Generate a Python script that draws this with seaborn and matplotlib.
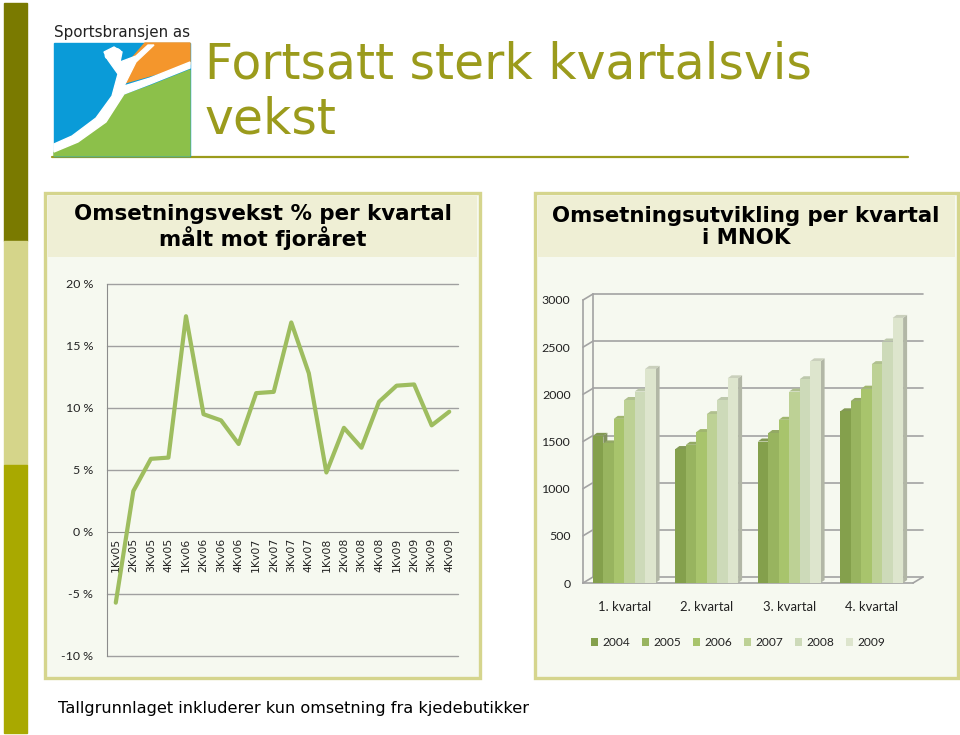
import matplotlib
matplotlib.use("Agg")
import matplotlib.pyplot as plt
from matplotlib.patches import Rectangle, Polygon, Ellipse
from matplotlib.transforms import Affine2D
import seaborn as sns
import pandas as pd
import numpy as np

# ---------------- data ----------------
quarters = ["1Kv05", "2Kv05", "3Kv05", "4Kv05", "1Kv06", "2Kv06", "3Kv06", "4Kv06",
            "1Kv07", "2Kv07", "3Kv07", "4Kv07", "1Kv08", "2Kv08", "3Kv08", "4Kv08",
            "1Kv09", "2Kv09", "3Kv09", "4Kv09"]
growth = [-5.7, 3.3, 5.9, 6.0, 17.4, 9.5, 9.0, 7.1,
          11.2, 11.3, 16.9, 12.8, 4.8, 8.4, 6.8, 10.5,
          11.8, 11.9, 8.6, 9.7]
growth_ticks = [-10, -5, 0, 5, 10, 15, 20]

kvartaler = ["1. kvartal", "2. kvartal", "3. kvartal", "4. kvartal"]
years = ["2004", "2005", "2006", "2007", "2008", "2009"]
sales_2004 = [1560, 1420, 1500, 1820]
sales_2005 = [1480, 1465, 1590, 1930]
sales_2006 = [1740, 1600, 1730, 2060]
sales_2007 = [1940, 1790, 2030, 2320]
sales_2008 = [2030, 1940, 2160, 2560]
sales_2009 = [2270, 2170, 2350, 2810]
sales_ticks = [0, 500, 1000, 1500, 2000, 2500, 3000]
year_colors = ["#84a04c", "#98b45f", "#a8c46c", "#bdd195", "#cddab9", "#dde5cd"]

title_text = "Fortsatt sterk kvartalsvis\nvekst"
left_title = "Omsetningsvekst % per kvartal\nmålt mot fjoråret"
right_title = "Omsetningsutvikling per kvartal\ni MNOK"
footnote = "Tallgrunnlaget inkluderer kun omsetning fra kjedebutikker"

# ---------------- style ----------------
sns.set_style("white")
plt.rcParams["font.family"] = ["DejaVu Sans"]

W, H = 960, 735
fig = plt.figure(figsize=(W / 100, H / 100), dpi=100)
fig.patch.set_facecolor("white")
T = Affine2D().scale(1 / W, -1 / H).translate(0, 1) + fig.transFigure  # pixel coords, top-left origin


def ax_rect(x0, y0, x1, y1):
    return [x0 / W, 1 - y1 / H, (x1 - x0) / W, (y1 - y0) / H]


olive = "#9b9b1c"
# left decorative strip
fig.patches.append(Rectangle((4, 3), 23, 238, transform=T, color="#7a7a00", zorder=-1))
fig.patches.append(Rectangle((4, 241), 23, 224, transform=T, color="#d5d58a", zorder=-1))
fig.patches.append(Rectangle((4, 465), 23, 268, transform=T, color="#a9a900", zorder=-1))

# logo
fig.patches.append(Rectangle((54, 43), 136, 113, transform=T, color="#0a9bd8", zorder=-0.9))
fig.patches.append(Polygon([(145, 43), (190, 43), (190, 64), (160, 73), (121, 84), (124, 70), (133, 57)],
                           closed=True, transform=T, color="#f4962c", zorder=-0.8))
fig.patches.append(Polygon([(54, 156), (54, 151), (78, 141), (104, 124), (122, 96), (150, 86), (190, 70), (190, 156)],
                           closed=True, transform=T, color="#8cc04a", zorder=-0.8))
fig.patches.append(Polygon([(54, 144), (72, 136), (96, 118), (112, 96), (118, 74), (108, 60), (104, 52),
                            (114, 47), (122, 52), (120, 62), (136, 56), (148, 45), (154, 45), (136, 62),
                            (124, 86), (150, 78), (190, 62), (190, 68), (150, 84), (124, 94), (106, 122),
                            (78, 142), (54, 152)],
                           closed=True, transform=T, color="white", zorder=-0.7))
fig.patches.append(Ellipse((113, 54), 16, 10, angle=-20, transform=T, color="white", zorder=-0.6))
fig.text(54, 33, "Sportsbransjen as", transform=T, fontsize=10.9, color="#222222",
         va="center", ha="left", fontfamily="DejaVu Sans")

# title
fig.text(205, 92, title_text, transform=T, fontsize=35.2, color=olive, va="center", ha="left",
         linespacing=1.2)
fig.lines.append(plt.Line2D([52, 908], [157, 157], transform=T, color=olive, lw=1.6, zorder=-1))

# panels
for (x0, x1) in [(45, 480), (535, 958)]:
    fig.patches.append(Rectangle((x0, 193), x1 - x0, 485, transform=T, facecolor="#f6f9f0",
                                 edgecolor="#d5d58d", lw=2.4, zorder=-0.5))
    fig.patches.append(Rectangle((x0 + 3, 196), x1 - x0 - 6, 61, transform=T, facecolor="#efefd5",
                                 edgecolor="none", zorder=-0.4))
fig.text(263, 227, left_title, transform=T, fontsize=15.4, fontweight="bold", ha="center",
         va="center", color="black", linespacing=1.1)
fig.text(746, 227, right_title, transform=T, fontsize=15.3, fontweight="bold", ha="center",
         va="center", color="black", linespacing=1.1)

fig.text(58, 709, footnote, transform=T, fontsize=11.6, ha="left", va="center", color="black")

# ---------------- left chart ----------------
ax1 = fig.add_axes(ax_rect(107, 284, 458, 656))
ax1.set_zorder(5)
ax1.set_facecolor("none")
df1 = pd.DataFrame({"kvartal": quarters, "vekst": growth})
df1["pos"] = np.arange(len(quarters))
sns.lineplot(data=df1, x="pos", y="vekst", ax=ax1, color="#9ebd5f", lw=3, sort=False, zorder=5)
for s in ["top", "right"]:
    ax1.spines[s].set_visible(False)
ax1.spines["bottom"].set_position(("data", 0))
ax1.spines["bottom"].set_color("#8c8c8c")
ax1.spines["left"].set_color("#8c8c8c")
ax1.set_xlim(-0.5, len(quarters) - 0.5)
ax1.set_ylim(min(growth_ticks), max(growth_ticks))
ax1.set_yticks(growth_ticks)
ax1.set_yticklabels([f"{v} %" for v in growth_ticks], fontfamily="Lato", fontsize=8.9, color="#222222")
ax1.set_xticks(list(df1["pos"]))
ax1.set_xticklabels(quarters, rotation=90, fontsize=7.8, color="#222222", va="top", ha="center")
ax1.set_xticks(np.arange(-0.5, len(quarters)), minor=True)
ax1.tick_params(axis="x", which="major", length=0, pad=4)
ax1.tick_params(axis="x", which="minor", length=4, color="#8c8c8c", width=1, direction="out")
ax1.tick_params(axis="y", length=4, color="#8c8c8c", width=1, direction="out", pad=6)
for v in growth_ticks:
    if v != 0:
        ax1.axhline(v, color="#a0a0a0", lw=1, zorder=1, clip_on=False)
ax1.set_xlabel("")
ax1.set_ylabel("")

# ---------------- right chart ----------------
ax2 = fig.add_axes(ax_rect(583, 300, 913, 583))
ax2.set_zorder(5)
ax2.set_facecolor("none")
sales = [sales_2004, sales_2005, sales_2006, sales_2007, sales_2008, sales_2009]
rows = []
for yr, vals in zip(years, sales):
    for k, v in zip(kvartaler, vals):
        rows.append({"kvartal": k, "år": yr, "verdi": v})
df2 = pd.DataFrame(rows)
sns.barplot(data=df2, x="kvartal", y="verdi", hue="år", palette=year_colors, width=0.76,
            saturation=1, ax=ax2, edgecolor="none", linewidth=0, legend=True)
ax2.set_xlim(-0.5, len(kvartaler) - 0.5)
ax2.set_ylim(0, max(sales_ticks))

# pixel -> data conversions
pos = ax2.get_position()
px_w = pos.width * W
px_h = pos.height * H
ux = (len(kvartaler)) / px_w
uy = max(sales_ticks) / px_h
DX, DY = 10 * ux, 6 * uy      # back wall offset
bx, by = 4 * ux, 3 * uy       # bar depth

grid_c = "#a3a3a3"
x_left, x_right = -0.5, len(kvartaler) - 0.5
for v in sales_ticks:
    ax2.plot([x_left + DX, x_right + DX], [v + DY, v + DY], color=grid_c, lw=1.2, clip_on=False, zorder=1)
    ax2.plot([x_left, x_left + DX], [v, v + DY], color=grid_c, lw=1.2, clip_on=False, zorder=1)
ax2.plot([x_left + DX, x_left + DX], [DY, max(sales_ticks) + DY], color=grid_c, lw=1.2, clip_on=False, zorder=1)
ax2.plot([x_right, x_right + DX], [0, DY], color=grid_c, lw=1.2, clip_on=False, zorder=1)


def shade(c, f):
    r, g, b = matplotlib.colors.to_rgb(c)
    gray = 0.55
    return (r * f + gray * (1 - f) * 0.9, g * f + gray * (1 - f) * 0.9, b * f + gray * (1 - f) * 0.85)


bars = [p for p in ax2.patches if isinstance(p, Rectangle) and p.get_height() > 0]
bars.sort(key=lambda p: p.get_x())
for i, p in enumerate(bars):
    x0, w, h = p.get_x(), p.get_width(), p.get_height()
    fc = p.get_facecolor()
    z = 3 + i * 0.01
    side = Polygon([(x0 + w, 0), (x0 + w + bx, by), (x0 + w + bx, h + by), (x0 + w, h)],
                   closed=True, facecolor=shade(fc, 0.55), edgecolor="none", zorder=z)
    top = Polygon([(x0, h), (x0 + bx, h + by), (x0 + w + bx, h + by), (x0 + w, h)],
                  closed=True, facecolor=shade(fc, 0.8), edgecolor="none", zorder=z + 0.001)
    ax2.add_patch(side)
    ax2.add_patch(top)
    p.set_zorder(z + 0.002)

ax2.set_yticks(sales_ticks)
ax2.set_yticklabels([str(v) for v in sales_ticks], fontfamily="Lato", fontsize=8.9, color="#222222")
ax2.set_xticks(range(len(kvartaler)))
ax2.set_xticklabels(kvartaler, fontfamily="Lato", fontsize=9.4, color="#222222")
ax2.set_xticks(np.arange(-0.5, len(kvartaler)), minor=True)
ax2.tick_params(axis="x", which="major", length=0, pad=13)
ax2.tick_params(axis="x", which="minor", length=4, color=grid_c, width=1.2, direction="out")
ax2.tick_params(axis="y", length=3, color=grid_c, width=1.2, direction="out", pad=6)
for s in ["top", "right"]:
    ax2.spines[s].set_visible(False)
for s in ["left", "bottom"]:
    ax2.spines[s].set_color(grid_c)
    ax2.spines[s].set_linewidth(1.2)
ax2.set_xlabel("")
ax2.set_ylabel("")

handles, labels = ax2.get_legend_handles_labels()
ax2.get_legend().remove()
leg = fig.legend(handles, labels, ncol=6, frameon=False, loc="center",
                 bbox_to_anchor=(738 / W, 1 - 643 / H), prop={"family": "Lato", "size": 8.6},
                 handlelength=0.6, handleheight=0.6, handletextpad=0.35, columnspacing=1.0,
                 labelcolor="#222222")
leg.set_zorder(6)

fig.savefig("out.png", dpi=100, facecolor="white")
